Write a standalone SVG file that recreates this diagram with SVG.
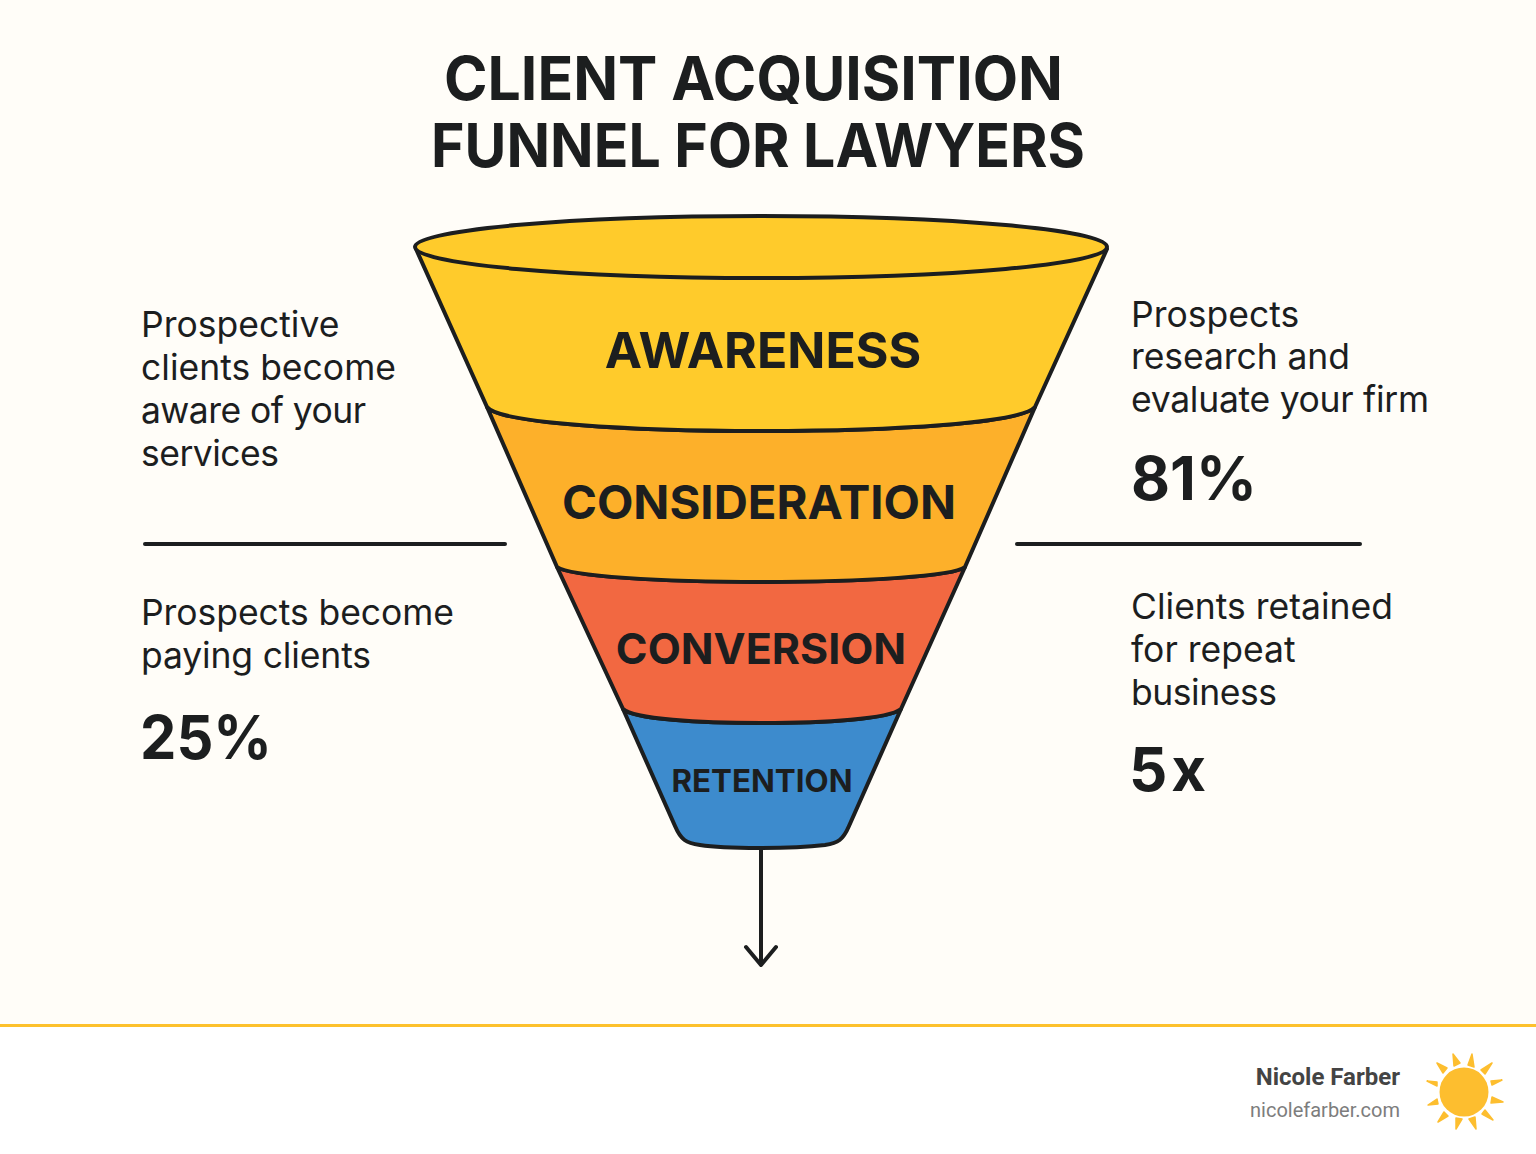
<svg xmlns="http://www.w3.org/2000/svg" width="1536" height="1154" viewBox="0 0 1536 1154">
<style>
.t{font-family:"Inter","Liberation Sans",sans-serif;fill:#1c1e1f}
.title{font-size:61px;font-weight:700;text-anchor:middle}
.stage{font-weight:700;text-anchor:middle}
.body{font-size:35.5px;font-weight:400}
.num{font-size:60px;font-weight:700}
.seg{stroke:#1c1e1f;stroke-width:4;stroke-linejoin:round}
.rule{stroke:#1c1e1f;stroke-width:4;stroke-linecap:round;fill:none}
.ray{fill:#fdbe2f;stroke:#fdbe2f;stroke-width:1.5;stroke-linejoin:round}
</style>
<rect width="1536" height="1154" fill="#fffdf8"/>
<rect y="1026" width="1536" height="128" fill="#ffffff"/>
<rect y="1024" width="1536" height="3" fill="#fdc12c"/>
<g id="title"><text class="t title" x="753.5" y="100" textLength="619" lengthAdjust="spacingAndGlyphs">CLIENT ACQUISITION</text><text class="t title" x="758" y="167" textLength="654" lengthAdjust="spacingAndGlyphs">FUNNEL FOR LAWYERS</text></g>
<g id="connectors">
<path class="rule" d="M761 848V964"/>
<path class="rule" d="M746 947L761 965L776 947" stroke-linejoin="round"/>
<path class="rule" d="M145 544H505"/>
<path class="rule" d="M1017 544H1360"/>
</g>
<g id="retention"><path class="seg" fill="#3d8bcd" d="M623 709C633 719 700 723 761 723C825 723 889 719 901 709L849 826C843 840 838 843 825 845C790 849 725 849 700 845C686 843 681 840 675 826Z"/><text class="t stage" x="762" y="792" font-size="31.3">RETENTION</text></g>
<g id="conversion"><path class="seg" fill="#f26841" d="M557 567C569 576 660 582 761 582C865 582 954 576 965 567L901 709C889 719 825 723 761 723C700 723 633 719 623 709Z"/><text class="t stage" x="761" y="664" font-size="43">CONVERSION</text></g>
<g id="consideration"><path class="seg" fill="#fdb02a" d="M487 407C499 423 630 431 761 431C895 431 1021 423 1035 407L965 567C954 576 865 582 761 582C660 582 569 576 557 567Z"/><text class="t stage" x="759" y="519" font-size="47.3">CONSIDERATION</text></g>
<g id="awareness"><path class="seg" fill="#ffcb2b" d="M416 249L487 407C499 423 630 431 761 431C895 431 1021 423 1035 407L1107 249A346 31 0 0 0 416 249Z"/><ellipse class="seg" fill="#ffcb2b" cx="761" cy="247" rx="346" ry="31"/><text class="t stage" x="763" y="368" font-size="50">AWARENESS</text></g>
<g id="note-awareness"><text class="t body" x="141" y="337">Prospective</text><text class="t body" x="141" y="380">clients become</text><text class="t body" x="141" y="423" textLength="225">aware of your</text><text class="t body" x="141" y="466" textLength="138">services</text></g>
<g id="note-conversion"><text class="t body" x="141" y="625" textLength="313">Prospects become</text><text class="t body" x="141" y="668" textLength="230">paying clients</text><text class="t num" x="140" y="759" textLength="132" lengthAdjust="spacingAndGlyphs">25%</text></g>
<g id="note-consideration"><text class="t body" x="1131" y="327">Prospects</text><text class="t body" x="1131" y="369" textLength="219">research and</text><text class="t body" x="1131" y="412" textLength="298">evaluate your firm</text><text class="t num" x="1131" y="500">81%</text></g>
<g id="note-retention"><text class="t body" x="1131" y="619">Clients retained</text><text class="t body" x="1131" y="662">for repeat</text><text class="t body" x="1131" y="705" textLength="146">business</text><text class="t num" x="1129" y="791" letter-spacing="4">5x</text></g>
<g id="footer">
<text x="1400" y="1085" text-anchor="end" font-family="Roboto,sans-serif" font-weight="700" font-size="24" fill="#444444">Nicole Farber</text>
<text x="1400" y="1117" text-anchor="end" font-family="Roboto,sans-serif" font-size="20" fill="#7d7d7d">nicolefarber.com</text>
<circle cx="1464" cy="1092" r="24.5" fill="#fdbe2f"/>
<g class="ray">
<path d="M1453 1054L1454 1066L1460 1063Z"/>
<path d="M1472 1054L1468 1065L1474 1067Z"/>
<path d="M1492 1063L1481 1070L1485 1074Z"/>
<path d="M1502 1080L1491 1081L1492 1085Z"/>
<path d="M1503 1102L1492 1097L1491 1103Z"/>
<path d="M1493 1120L1485 1110L1482 1114Z"/>
<path d="M1476 1129L1475 1117L1469 1119Z"/>
<path d="M1456 1129L1456 1118L1462 1119Z"/>
<path d="M1438 1122L1444 1112L1448 1116Z"/>
<path d="M1428 1105L1437 1099L1438 1104Z"/>
<path d="M1427 1081L1437 1082L1437 1086Z"/>
<path d="M1437 1063L1447 1068L1443 1073Z"/>
</g>
</g>
</svg>
